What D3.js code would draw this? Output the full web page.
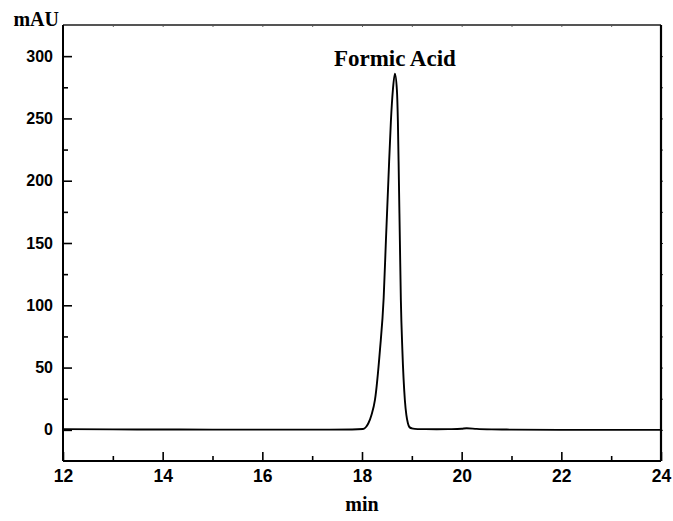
<!DOCTYPE html>
<html>
<head>
<meta charset="utf-8">
<script src="https://cdn.jsdelivr.net/npm/d3@7"></script>
<style>
  body { margin: 0; background: #fff; }
  .tick text { font-family: "Liberation Sans", Arial, sans-serif; font-weight: bold; font-size: 16px; fill: #000; }
  .xaxis .tick text { font-size: 17.5px; }
</style>
</head>
<body>
<div id="chart"></div>
<script>
// retention time (min) and absorbance (mAU)
const times = [12, 13, 14, 15, 16, 17, 17.8, 18.02, 18.08, 18.13, 18.19, 18.26, 18.36, 18.435, 18.48, 18.53, 18.58, 18.62, 18.66,
  18.70, 18.72, 18.74, 18.76, 18.78, 18.81, 18.86, 18.89, 18.92, 18.95, 19.0, 19.06, 19.2, 19.5, 19.8, 20.0, 20.1, 20.3, 20.6, 21, 22, 23, 24];
const values = [0.6, 0.4, 0.3, 0.2, 0.2, 0.2, 0.3, 0.7, 2.3, 5.5, 12, 24, 64, 106, 152, 201, 248, 273, 286,
  273, 248, 201, 152, 104, 64, 24, 12, 5.5, 2.3, 1.2, 0.8, 0.6, 0.5, 0.6, 0.9, 1.3, 0.8, 0.4, 0.2, 0, 0, 0];
const xMajor = [12, 14, 16, 18, 20, 22, 24];
const xMinor = [13, 15, 17, 19, 21, 23];
const yMajor = [0, 50, 100, 150, 200, 250, 300];
const yMinor = [25, 75, 125, 175, 225, 275];
const peakLabel = "Formic Acid";
const peakTime = 18.66;

class chromatogram {
  constructor(_el) {
    this.el = _el;
    this.initVis();
  }

  initVis() {
    let vis = this;
    const margin = {top: 25, right: 12, bottom: 60, left: 63},
      width = 673 - margin.left - margin.right,
      height = 521 - margin.top - margin.bottom;

    vis.svg = d3.select(vis.el).append("svg").attr("width", 673).attr("height", 521);
    const g = vis.svg.append("g").attr("transform", `translate(${margin.left},${margin.top})`);

    vis.x = d3.scaleLinear().domain([12, 24]).range([0, width]);
    vis.y = d3.scaleLinear().domain([-25, 325]).range([height, 0]);

    // minor ticks
    g.append("g").attr("transform", `translate(0,${height})`)
      .call(d3.axisBottom(vis.x).tickValues(xMinor).tickSize(-5).tickFormat(""))
      .call(a => a.select(".domain").remove());
    g.append("g")
      .call(d3.axisLeft(vis.y).tickValues(yMinor).tickSize(-5).tickFormat(""))
      .call(a => a.select(".domain").remove());

    // major ticks + labels
    g.append("g").attr("class", "xaxis").attr("transform", `translate(0,${height})`)
      .call(d3.axisBottom(vis.x).tickValues(xMajor).tickSize(-9).tickPadding(9).tickFormat(d3.format("d")))
      .call(a => a.select(".domain").remove());
    g.append("g")
      .call(d3.axisLeft(vis.y).tickValues(yMajor).tickSize(-9).tickPadding(10).tickFormat(d3.format("d")))
      .call(a => a.select(".domain").remove());
    g.selectAll(".tick line").attr("stroke", "#000").attr("stroke-width", 1.6);

    // small marks on top and right borders
    g.append("g")
      .call(d3.axisTop(vis.x).tickValues(xMinor.concat(xMajor)).tickSize(-2).tickFormat(""))
      .call(a => a.select(".domain").remove())
      .selectAll("line").attr("stroke", "#666");
    g.append("g").attr("transform", `translate(${width},0)`)
      .call(d3.axisRight(vis.y).tickValues(yMinor.concat(yMajor)).tickSize(2).tickFormat(""))
      .call(a => a.select(".domain").remove())
      .selectAll("line").attr("stroke", "#333");

    // frame
    g.append("line").attr("x1", 0).attr("x2", width).attr("y1", 0).attr("y2", 0)
      .attr("stroke", "#555").attr("stroke-width", 2);
    g.append("line").attr("x1", 0).attr("x2", width).attr("y1", height).attr("y2", height)
      .attr("stroke", "#000").attr("stroke-width", 2);
    g.append("line").attr("x1", 0).attr("x2", 0).attr("y1", 0).attr("y2", height)
      .attr("stroke", "#000").attr("stroke-width", 2);
    g.append("line").attr("x1", width).attr("x2", width).attr("y1", 0).attr("y2", height)
      .attr("stroke", "#000").attr("stroke-width", 2.2);

    // trace
    const data = times.map((t, i) => ({t: t, v: values[i]}));
    const line = d3.line().x(d => vis.x(d.t)).y(d => vis.y(d.v)).curve(d3.curveMonotoneX);
    g.append("path").datum(data).attr("d", line)
      .attr("fill", "none").attr("stroke", "#000").attr("stroke-width", 1.9);

    // labels
    const serif = "'Liberation Serif', 'Times New Roman', serif";
    vis.svg.append("text").text("mAU").attr("x", 59).attr("y", 26).attr("text-anchor", "end")
      .style("font-family", serif).style("font-weight", "bold").style("font-size", "20px");
    vis.svg.append("text").text("min").attr("x", margin.left + width / 2).attr("y", 511).attr("text-anchor", "middle")
      .style("font-family", serif).style("font-weight", "bold").style("font-size", "20px");
    g.append("text").text(peakLabel).attr("x", vis.x(peakTime)).attr("y", 66 - margin.top).attr("text-anchor", "middle")
      .style("font-family", serif).style("font-weight", "bold").style("font-size", "23px");
  }
}

new chromatogram("#chart");
</script>
</body>
</html>
